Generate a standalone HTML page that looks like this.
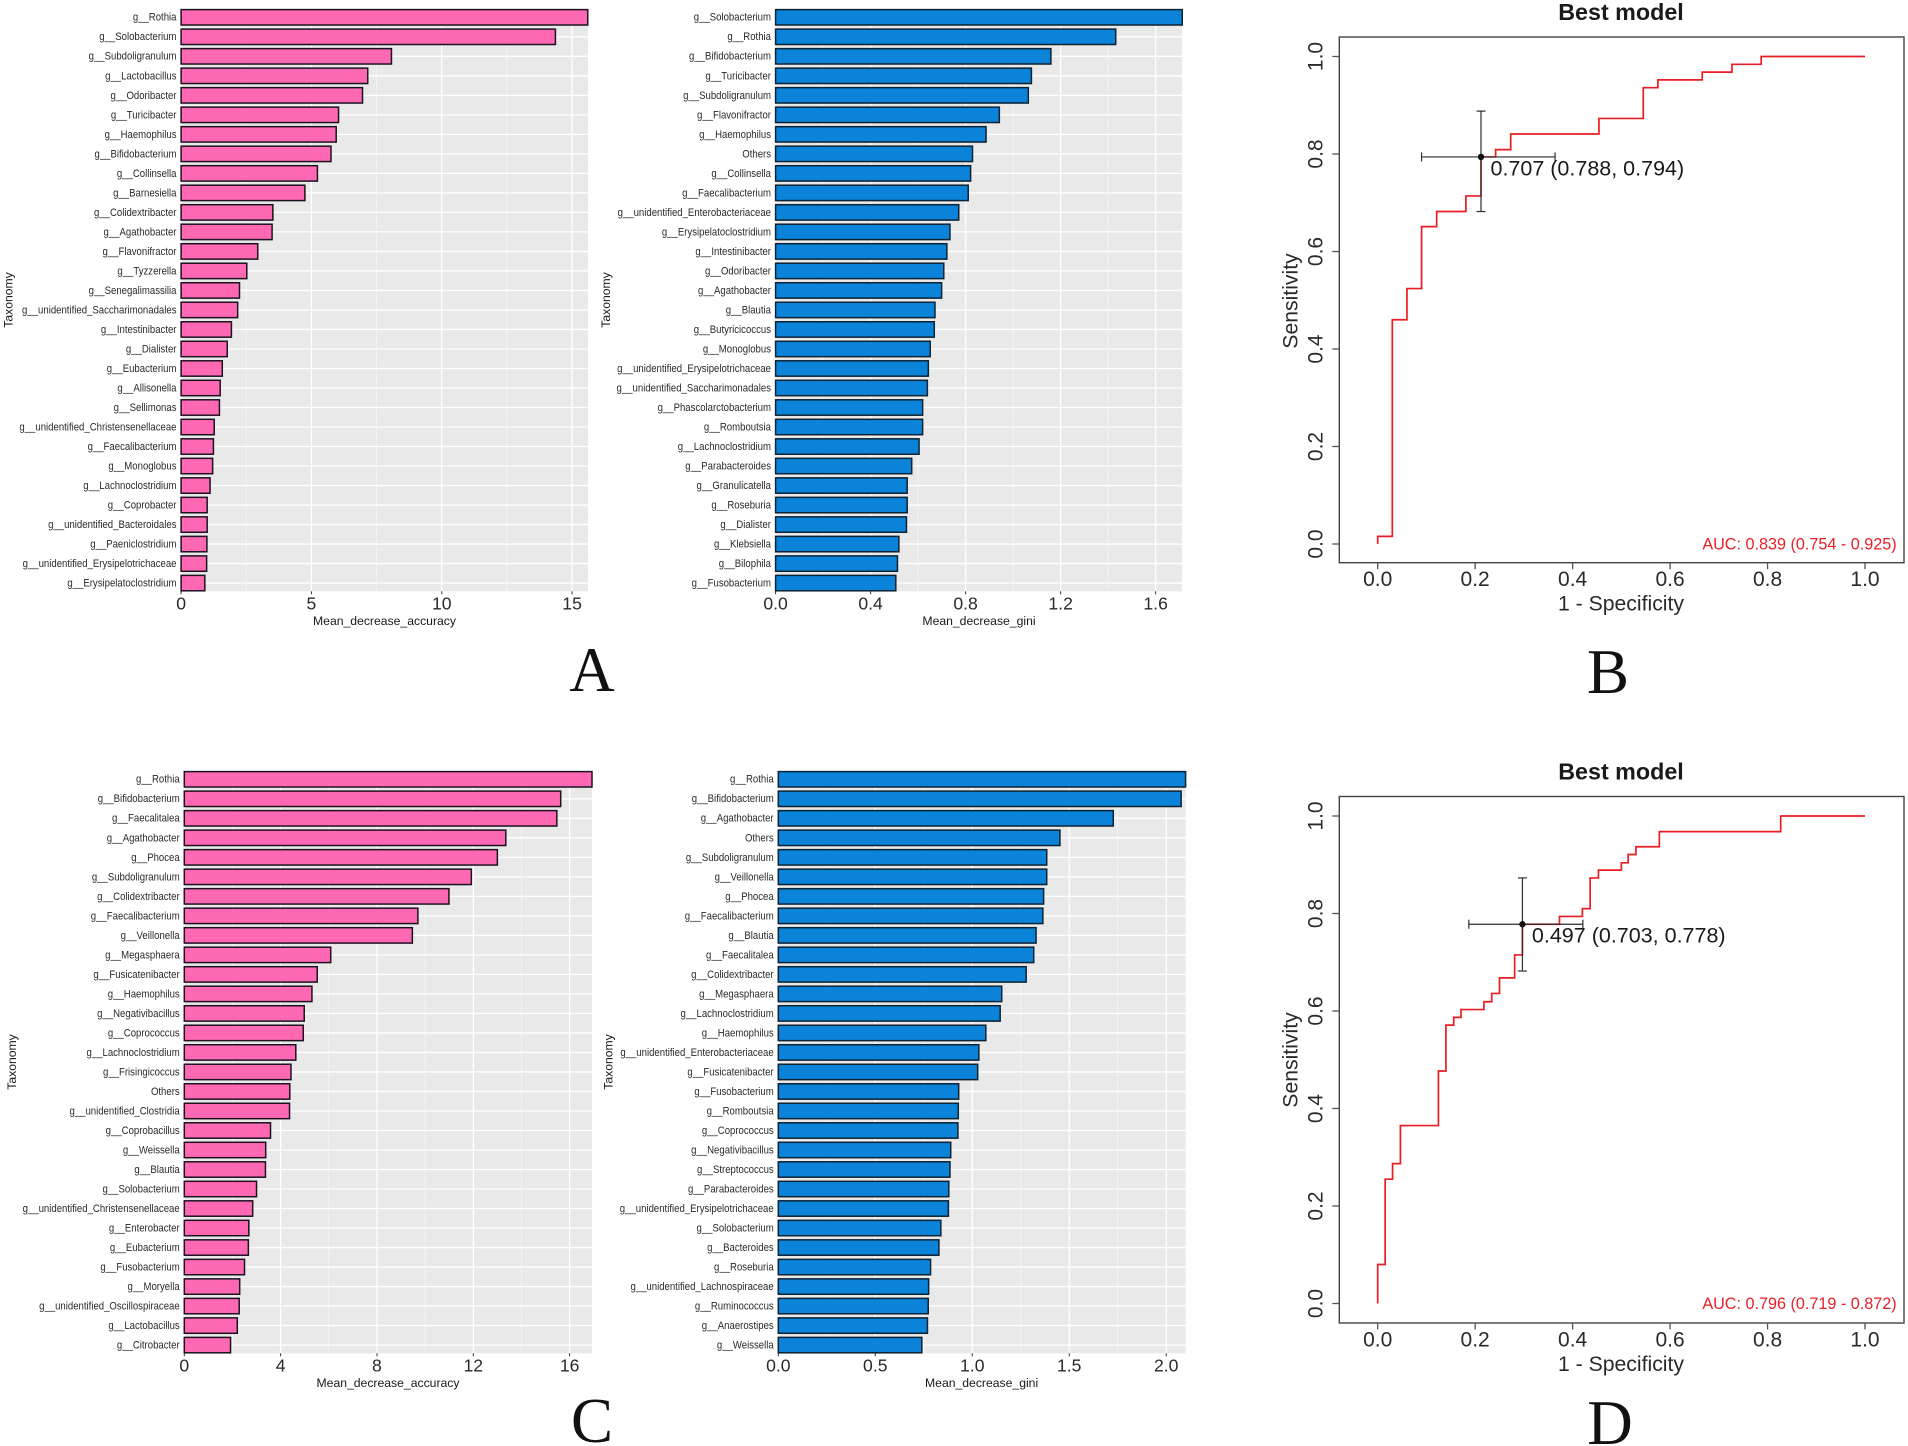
<!DOCTYPE html>
<html lang="en">
<head>
<meta charset="utf-8">
<title>Random forest taxonomy importance and ROC curves</title>
<style>
  html, body { margin: 0; padding: 0; background: #ffffff; }
  svg { display: block; }
  text { font-family: "Liberation Sans", sans-serif; fill: #222222; }
  .row-label { font-size: 10.6px; text-anchor: end; dominant-baseline: central; fill: #2a2a2a; }
  .bar-tick { font-size: 17.6px; text-anchor: middle; dominant-baseline: central; fill: #2a2a2a; }
  .bar-axis { font-size: 12.2px; text-anchor: middle; dominant-baseline: central; fill: #1a1a1a; }
  .roc-tick { font-size: 21px; text-anchor: middle; dominant-baseline: central; fill: #2a2a2a; }
  .roc-axis { font-size: 21.2px; text-anchor: middle; dominant-baseline: central; fill: #2a2a2a; }
  .roc-title { font-size: 23.3px; font-weight: bold; text-anchor: middle; dominant-baseline: central; fill: #1a1a1a; }
  .roc-auc { font-size: 16.2px; text-anchor: end; dominant-baseline: central; fill: #e8202a; }
  .roc-point { font-size: 21.5px; dominant-baseline: central; fill: #1a1a1a; }
  .panel-letter { font-family: "Liberation Serif", serif; font-size: 63px; text-anchor: middle; fill: #111111; }
</style>
</head>
<body>
<svg id="figure" xmlns="http://www.w3.org/2000/svg" width="1908" height="1446" viewBox="0 0 1908 1446">
  <text class="panel-letter" x="592" y="691">A</text>
  <text class="panel-letter" x="1608" y="693">B</text>
  <text class="panel-letter" x="592" y="1442">C</text>
  <text class="panel-letter" x="1610" y="1444">D</text>
</svg>
<script>
/* Panel A, mean decrease accuracy */
const accATaxa = ["g__Rothia","g__Solobacterium","g__Subdoligranulum","g__Lactobacillus","g__Odoribacter","g__Turicibacter","g__Haemophilus","g__Bifidobacterium","g__Collinsella","g__Barnesiella","g__Colidextribacter","g__Agathobacter","g__Flavonifractor","g__Tyzzerella","g__Senegalimassilia","g__unidentified_Saccharimonadales","g__Intestinibacter","g__Dialister","g__Eubacterium","g__Allisonella","g__Sellimonas","g__unidentified_Christensenellaceae","g__Faecalibacterium","g__Monoglobus","g__Lachnoclostridium","g__Coprobacter","g__unidentified_Bacteroidales","g__Paeniclostridium","g__unidentified_Erysipelotrichaceae","g__Erysipelatoclostridium"];
const accAValues = [15.6,14.36,8.07,7.16,6.96,6.04,5.95,5.75,5.23,4.75,3.52,3.49,2.94,2.52,2.24,2.17,1.93,1.77,1.58,1.5,1.47,1.27,1.24,1.21,1.11,1.0,1.0,0.99,0.98,0.91];
const accATicks = [0,5,10,15];
const accATickLabels = ["0","5","10","15"];

/* Panel A, mean decrease gini */
const giniATaxa = ["g__Solobacterium","g__Rothia","g__Bifidobacterium","g__Turicibacter","g__Subdoligranulum","g__Flavonifractor","g__Haemophilus","Others","g__Collinsella","g__Faecalibacterium","g__unidentified_Enterobacteriaceae","g__Erysipelatoclostridium","g__Intestinibacter","g__Odoribacter","g__Agathobacter","g__Blautia","g__Butyricicoccus","g__Monoglobus","g__unidentified_Erysipelotrichaceae","g__unidentified_Saccharimonadales","g__Phascolarctobacterium","g__Romboutsia","g__Lachnoclostridium","g__Parabacteroides","g__Granulicatella","g__Roseburia","g__Dialister","g__Klebsiella","g__Bilophila","g__Fusobacterium"];
const giniAValues = [1.712,1.432,1.159,1.077,1.064,0.942,0.886,0.829,0.821,0.811,0.771,0.734,0.721,0.708,0.699,0.671,0.668,0.651,0.643,0.639,0.619,0.619,0.604,0.573,0.554,0.554,0.551,0.519,0.513,0.506];
const giniATicks = [0,0.4,0.8,1.2,1.6];
const giniATickLabels = ["0.0","0.4","0.8","1.2","1.6"];

/* Panel C, mean decrease accuracy */
const accCTaxa = ["g__Rothia","g__Bifidobacterium","g__Faecalitalea","g__Agathobacter","g__Phocea","g__Subdoligranulum","g__Colidextribacter","g__Faecalibacterium","g__Veillonella","g__Megasphaera","g__Fusicatenibacter","g__Haemophilus","g__Negativibacillus","g__Coprococcus","g__Lachnoclostridium","g__Frisingicoccus","Others","g__unidentified_Clostridia","g__Coprobacillus","g__Weissella","g__Blautia","g__Solobacterium","g__unidentified_Christensenellaceae","g__Enterobacter","g__Eubacterium","g__Fusobacterium","g__Moryella","g__unidentified_Oscillospiraceae","g__Lactobacillus","g__Citrobacter"];
const accCValues = [16.93,15.63,15.47,13.35,13.0,11.92,10.99,9.7,9.47,6.08,5.52,5.3,4.98,4.94,4.63,4.43,4.38,4.37,3.58,3.38,3.37,3.0,2.84,2.68,2.66,2.5,2.3,2.28,2.2,1.92];
const accCTicks = [0,4,8,12,16];
const accCTickLabels = ["0","4","8","12","16"];

/* Panel C, mean decrease gini */
const giniCTaxa = ["g__Rothia","g__Bifidobacterium","g__Agathobacter","Others","g__Subdoligranulum","g__Veillonella","g__Phocea","g__Faecalibacterium","g__Blautia","g__Faecalitalea","g__Colidextribacter","g__Megasphaera","g__Lachnoclostridium","g__Haemophilus","g__unidentified_Enterobacteriaceae","g__Fusicatenibacter","g__Fusobacterium","g__Romboutsia","g__Coprococcus","g__Negativibacillus","g__Streptococcus","g__Parabacteroides","g__unidentified_Erysipelotrichaceae","g__Solobacterium","g__Bacteroides","g__Roseburia","g__unidentified_Lachnospiraceae","g__Ruminococcus","g__Anaerostipes","g__Weissella"];
const giniCValues = [2.1,2.077,1.727,1.452,1.384,1.384,1.368,1.364,1.329,1.317,1.278,1.152,1.144,1.07,1.034,1.028,0.93,0.928,0.926,0.889,0.885,0.879,0.877,0.838,0.828,0.785,0.775,0.773,0.769,0.74];
const giniCTicks = [0,0.5,1,1.5,2];
const giniCTickLabels = ["0.0","0.5","1.0","1.5","2.0"];

/* ROC curves: step vertices */
const rocBFpr = [0,0,0.03,0.06,0.09,0.121,0.181,0.212,0.242,0.273,0.454,0.545,0.575,0.666,0.727,0.787,1];
const rocBTpr = [0,0.0157,0.46,0.524,0.651,0.682,0.714,0.794,0.809,0.841,0.873,0.936,0.952,0.968,0.984,1,1];
const rocDFpr = [0,0,0.0153,0.0305,0.0466,0.1246,0.14,0.156,0.171,0.218,0.234,0.25,0.281,0.297,0.373,0.42,0.436,0.453,0.5,0.514,0.53,0.578,0.827,1];
const rocDTpr = [0,0.08,0.255,0.287,0.365,0.477,0.571,0.587,0.603,0.619,0.636,0.668,0.715,0.778,0.794,0.81,0.873,0.889,0.904,0.921,0.937,0.968,1,1];
const rocTicks = [0,0.2,0.4,0.6,0.8,1];
const rocTickLabels = ["0.0","0.2","0.4","0.6","0.8","1.0"];

/* ROC best-threshold points with confidence intervals */
const bestB = { fpr: 0.212, tpr: 0.794, fprLow: 0.09, fprHigh: 0.364, tprLow: 0.682, tprHigh: 0.888 };
const bestD = { fpr: 0.297, tpr: 0.778, fprLow: 0.187, fprHigh: 0.421, tprLow: 0.682, tprHigh: 0.873 };
const bestBLabel = "0.707 (0.788, 0.794)";
const bestDLabel = "0.497 (0.703, 0.778)";
const aucBLabel = "AUC: 0.839 (0.754 - 0.925)";
const aucDLabel = "AUC: 0.796 (0.719 - 0.872)";

const NS = "http://www.w3.org/2000/svg";
const figure = document.getElementById("figure");

function addGroup(name) {
  const g = document.createElementNS(NS, "g");
  
  
  figure.appendChild(g);
  return g;
}

function addLine(parent, x1, y1, x2, y2, color, width, name) {
  const el = document.createElementNS(NS, "line");
  el.setAttribute("x1", x1);
  el.setAttribute("y1", y1);
  el.setAttribute("x2", x2);
  el.setAttribute("y2", y2);
  el.setAttribute("stroke", color);
  el.setAttribute("stroke-width", width);
  
  
  parent.appendChild(el);
  return el;
}

function addText(parent, str, x, y, cls, name, transform) {
  const el = document.createElementNS(NS, "text");
  if (transform) {
    el.setAttribute("transform", transform);
  } else {
    el.setAttribute("x", x);
    el.setAttribute("y", y);
  }
  el.setAttribute("class", cls);
  
  
  el.textContent = str;
  parent.appendChild(el);
  return el;
}

function drawBarPanel(p) {
  const g = addGroup(p.name);
  const xScale = v => p.left + (v / p.domainMax) * (p.right - p.left);
  const rowStep = 19.51;
  const yScale = i => p.firstRow + i * rowStep;
  const barH = 15.4;
  const top = yScale(0) - 8.2;
  const bottom = yScale(p.taxa.length - 1) + 8.2;

  const bg = document.createElementNS(NS, "rect");
  bg.setAttribute("x", p.left);
  bg.setAttribute("y", top);
  bg.setAttribute("width", p.right - p.left);
  bg.setAttribute("height", bottom - top);
  bg.setAttribute("fill", "#e9e9e9");
  
  
  g.appendChild(bg);

  const step = p.ticks[1] - p.ticks[0];
  for (let t = step / 2; t < p.domainMax; t += step) {
    addLine(g, xScale(t), top, xScale(t), bottom, "#f6f6f6", 0.8, "minor-gridline");
  }
  p.ticks.forEach(t => {
    addLine(g, xScale(t), top, xScale(t), bottom, "#ffffff", 1.3, "major-gridline");
    addLine(g, xScale(t), bottom, xScale(t), bottom + 3, "#333333", 1, "x-tick-mark");
  });
  p.taxa.forEach((name, i) => {
    addLine(g, p.left, yScale(i), p.right, yScale(i), "#ffffff", 1.3, "row-gridline");
  });

  p.values.forEach((v, i) => {
    const bar = document.createElementNS(NS, "rect");
    bar.setAttribute("x", xScale(0));
    bar.setAttribute("y", yScale(i) - barH / 2);
    bar.setAttribute("width", xScale(v) - xScale(0));
    bar.setAttribute("height", barH);
    bar.setAttribute("fill", p.fill);
    bar.setAttribute("stroke", p.stroke);
    bar.setAttribute("stroke-width", 1.5);
    
    
    g.appendChild(bar);
    const lx = xScale(0) - 4.6;
    const ly = yScale(i) + 0.8;
    addText(g, p.taxa[i], 0, 0, "row-label", "taxon-label", "translate(" + lx + "," + ly + ") scale(0.905,1)");
  });

  p.ticks.forEach((t, i) => {
    addText(g, p.tickLabels[i], xScale(t), bottom + 12, "bar-tick", "x-tick-label");
  });
  addText(g, p.xTitle, p.xTitleX, bottom + 29.5, "bar-axis", "x-axis-title");
  addText(g, "Taxonomy", 0, 0, "bar-axis", "y-axis-title", "translate(" + p.yTitleX + "," + p.yTitleY + ") rotate(-90)");
}

function drawRoc(p) {
  const g = addGroup(p.name);
  const xScale = v => 1377.7 + v * 487.3;
  const yScale = v => p.yZero - v * 487.5;
  const boxLeft = 1339.3, boxRight = 1904;

  addText(g, "Best model", 1621, p.titleY, "roc-title", "chart-title");

  const box = document.createElementNS(NS, "rect");
  box.setAttribute("x", boxLeft);
  box.setAttribute("y", p.boxTop);
  box.setAttribute("width", boxRight - boxLeft);
  box.setAttribute("height", p.boxBottom - p.boxTop);
  box.setAttribute("fill", "none");
  box.setAttribute("stroke", "#444444");
  box.setAttribute("stroke-width", 1.4);
  
  
  g.appendChild(box);

  rocTicks.forEach((t, i) => {
    addLine(g, xScale(t), p.boxBottom, xScale(t), p.boxBottom + 6.5, "#555555", 1.3, "x-tick-mark");
    addLine(g, boxLeft - 7, yScale(t), boxLeft, yScale(t), "#555555", 1.3, "y-tick-mark");
    addText(g, rocTickLabels[i], xScale(t), p.boxBottom + 17, "roc-tick", "x-tick-label");
    addText(g, rocTickLabels[i], 0, 0, "roc-tick", "y-tick-label", "translate(1316," + yScale(t) + ") rotate(-90)");
  });
  addText(g, "1 - Specificity", 1621, p.boxBottom + 41.5, "roc-axis", "x-axis-title");
  addText(g, "Sensitivity", 0, 0, "roc-axis", "y-axis-title", "translate(1291," + p.sensY + ") rotate(-90)");

  let d = "M" + xScale(p.fpr[0]) + " " + yScale(p.tpr[0]);
  p.fpr.forEach((f, i) => {
    d += " L" + xScale(f) + " " + yScale(i === 0 ? p.tpr[0] : p.tpr[i - 1]);
    d += " L" + xScale(f) + " " + yScale(p.tpr[i]);
  });
  const curve = document.createElementNS(NS, "path");
  curve.setAttribute("d", d);
  curve.setAttribute("fill", "none");
  curve.setAttribute("stroke", "#ea1c24");
  curve.setAttribute("stroke-width", 1.7);
  
  
  g.appendChild(curve);

  const b = p.best;
  const ciColor = "#2e2e2e";
  addLine(g, xScale(b.fprLow), yScale(b.tpr), xScale(b.fprHigh), yScale(b.tpr), ciColor, 1.2, "specificity-ci");
  addLine(g, xScale(b.fprLow), yScale(b.tpr) - 4.5, xScale(b.fprLow), yScale(b.tpr) + 4.5, ciColor, 1.2, "specificity-ci-cap");
  addLine(g, xScale(b.fprHigh), yScale(b.tpr) - 4.5, xScale(b.fprHigh), yScale(b.tpr) + 4.5, ciColor, 1.2, "specificity-ci-cap");
  addLine(g, xScale(b.fpr), yScale(b.tprLow), xScale(b.fpr), yScale(b.tprHigh), ciColor, 1.2, "sensitivity-ci");
  addLine(g, xScale(b.fpr) - 4.5, yScale(b.tprLow), xScale(b.fpr) + 4.5, yScale(b.tprLow), ciColor, 1.2, "sensitivity-ci-cap");
  addLine(g, xScale(b.fpr) - 4.5, yScale(b.tprHigh), xScale(b.fpr) + 4.5, yScale(b.tprHigh), ciColor, 1.2, "sensitivity-ci-cap");

  const dot = document.createElementNS(NS, "circle");
  dot.setAttribute("cx", xScale(b.fpr));
  dot.setAttribute("cy", yScale(b.tpr));
  dot.setAttribute("r", 3.2);
  dot.setAttribute("fill", "#111111");
  
  
  g.appendChild(dot);

  addText(g, p.bestLabel, xScale(b.fpr) + 9.5, yScale(b.tpr) + 11.5, "roc-point", "best-threshold-label");
  addText(g, p.aucLabel, 1896.7, yScale(0) + 0.7, "roc-auc", "auc-label");
}

drawBarPanel({ name: "panel-a-accuracy-chart", taxa: accATaxa, values: accAValues, ticks: accATicks, tickLabels: accATickLabels,
  left: 181.1, right: 588, domainMax: 15.61, firstRow: 17.3, fill: "#ff69b4", stroke: "#1c1220",
  xTitle: "Mean_decrease_accuracy", xTitleX: 384.5, yTitleX: 8.7, yTitleY: 300 });
drawBarPanel({ name: "panel-a-gini-chart", taxa: giniATaxa, values: giniAValues, ticks: giniATicks, tickLabels: giniATickLabels,
  left: 775.6, right: 1182, domainMax: 1.711, firstRow: 17.3, fill: "#0a83d8", stroke: "#0d2233",
  xTitle: "Mean_decrease_gini", xTitleX: 979, yTitleX: 606, yTitleY: 300 });
drawBarPanel({ name: "panel-c-accuracy-chart", taxa: accCTaxa, values: accCValues, ticks: accCTicks, tickLabels: accCTickLabels,
  left: 184.3, right: 592, domainMax: 16.93, firstRow: 779.3, fill: "#ff69b4", stroke: "#1c1220",
  xTitle: "Mean_decrease_accuracy", xTitleX: 388, yTitleX: 12, yTitleY: 1062 });
drawBarPanel({ name: "panel-c-gini-chart", taxa: giniCTaxa, values: giniCValues, ticks: giniCTicks, tickLabels: giniCTickLabels,
  left: 778.3, right: 1185.6, domainMax: 2.1, firstRow: 779.3, fill: "#0a83d8", stroke: "#0d2233",
  xTitle: "Mean_decrease_gini", xTitleX: 981.6, yTitleX: 608.7, yTitleY: 1062 });

drawRoc({ name: "panel-b-roc-chart", fpr: rocBFpr, tpr: rocBTpr, best: bestB, bestLabel: bestBLabel, aucLabel: aucBLabel,
  yZero: 544, boxTop: 37, boxBottom: 562.7, titleY: 12, sensY: 301 });
drawRoc({ name: "panel-d-roc-chart", fpr: rocDFpr, tpr: rocDTpr, best: bestD, bestLabel: bestDLabel, aucLabel: aucDLabel,
  yZero: 1303.5, boxTop: 796.5, boxBottom: 1323, titleY: 771.4, sensY: 1060 });
</script>
</body>
</html>
